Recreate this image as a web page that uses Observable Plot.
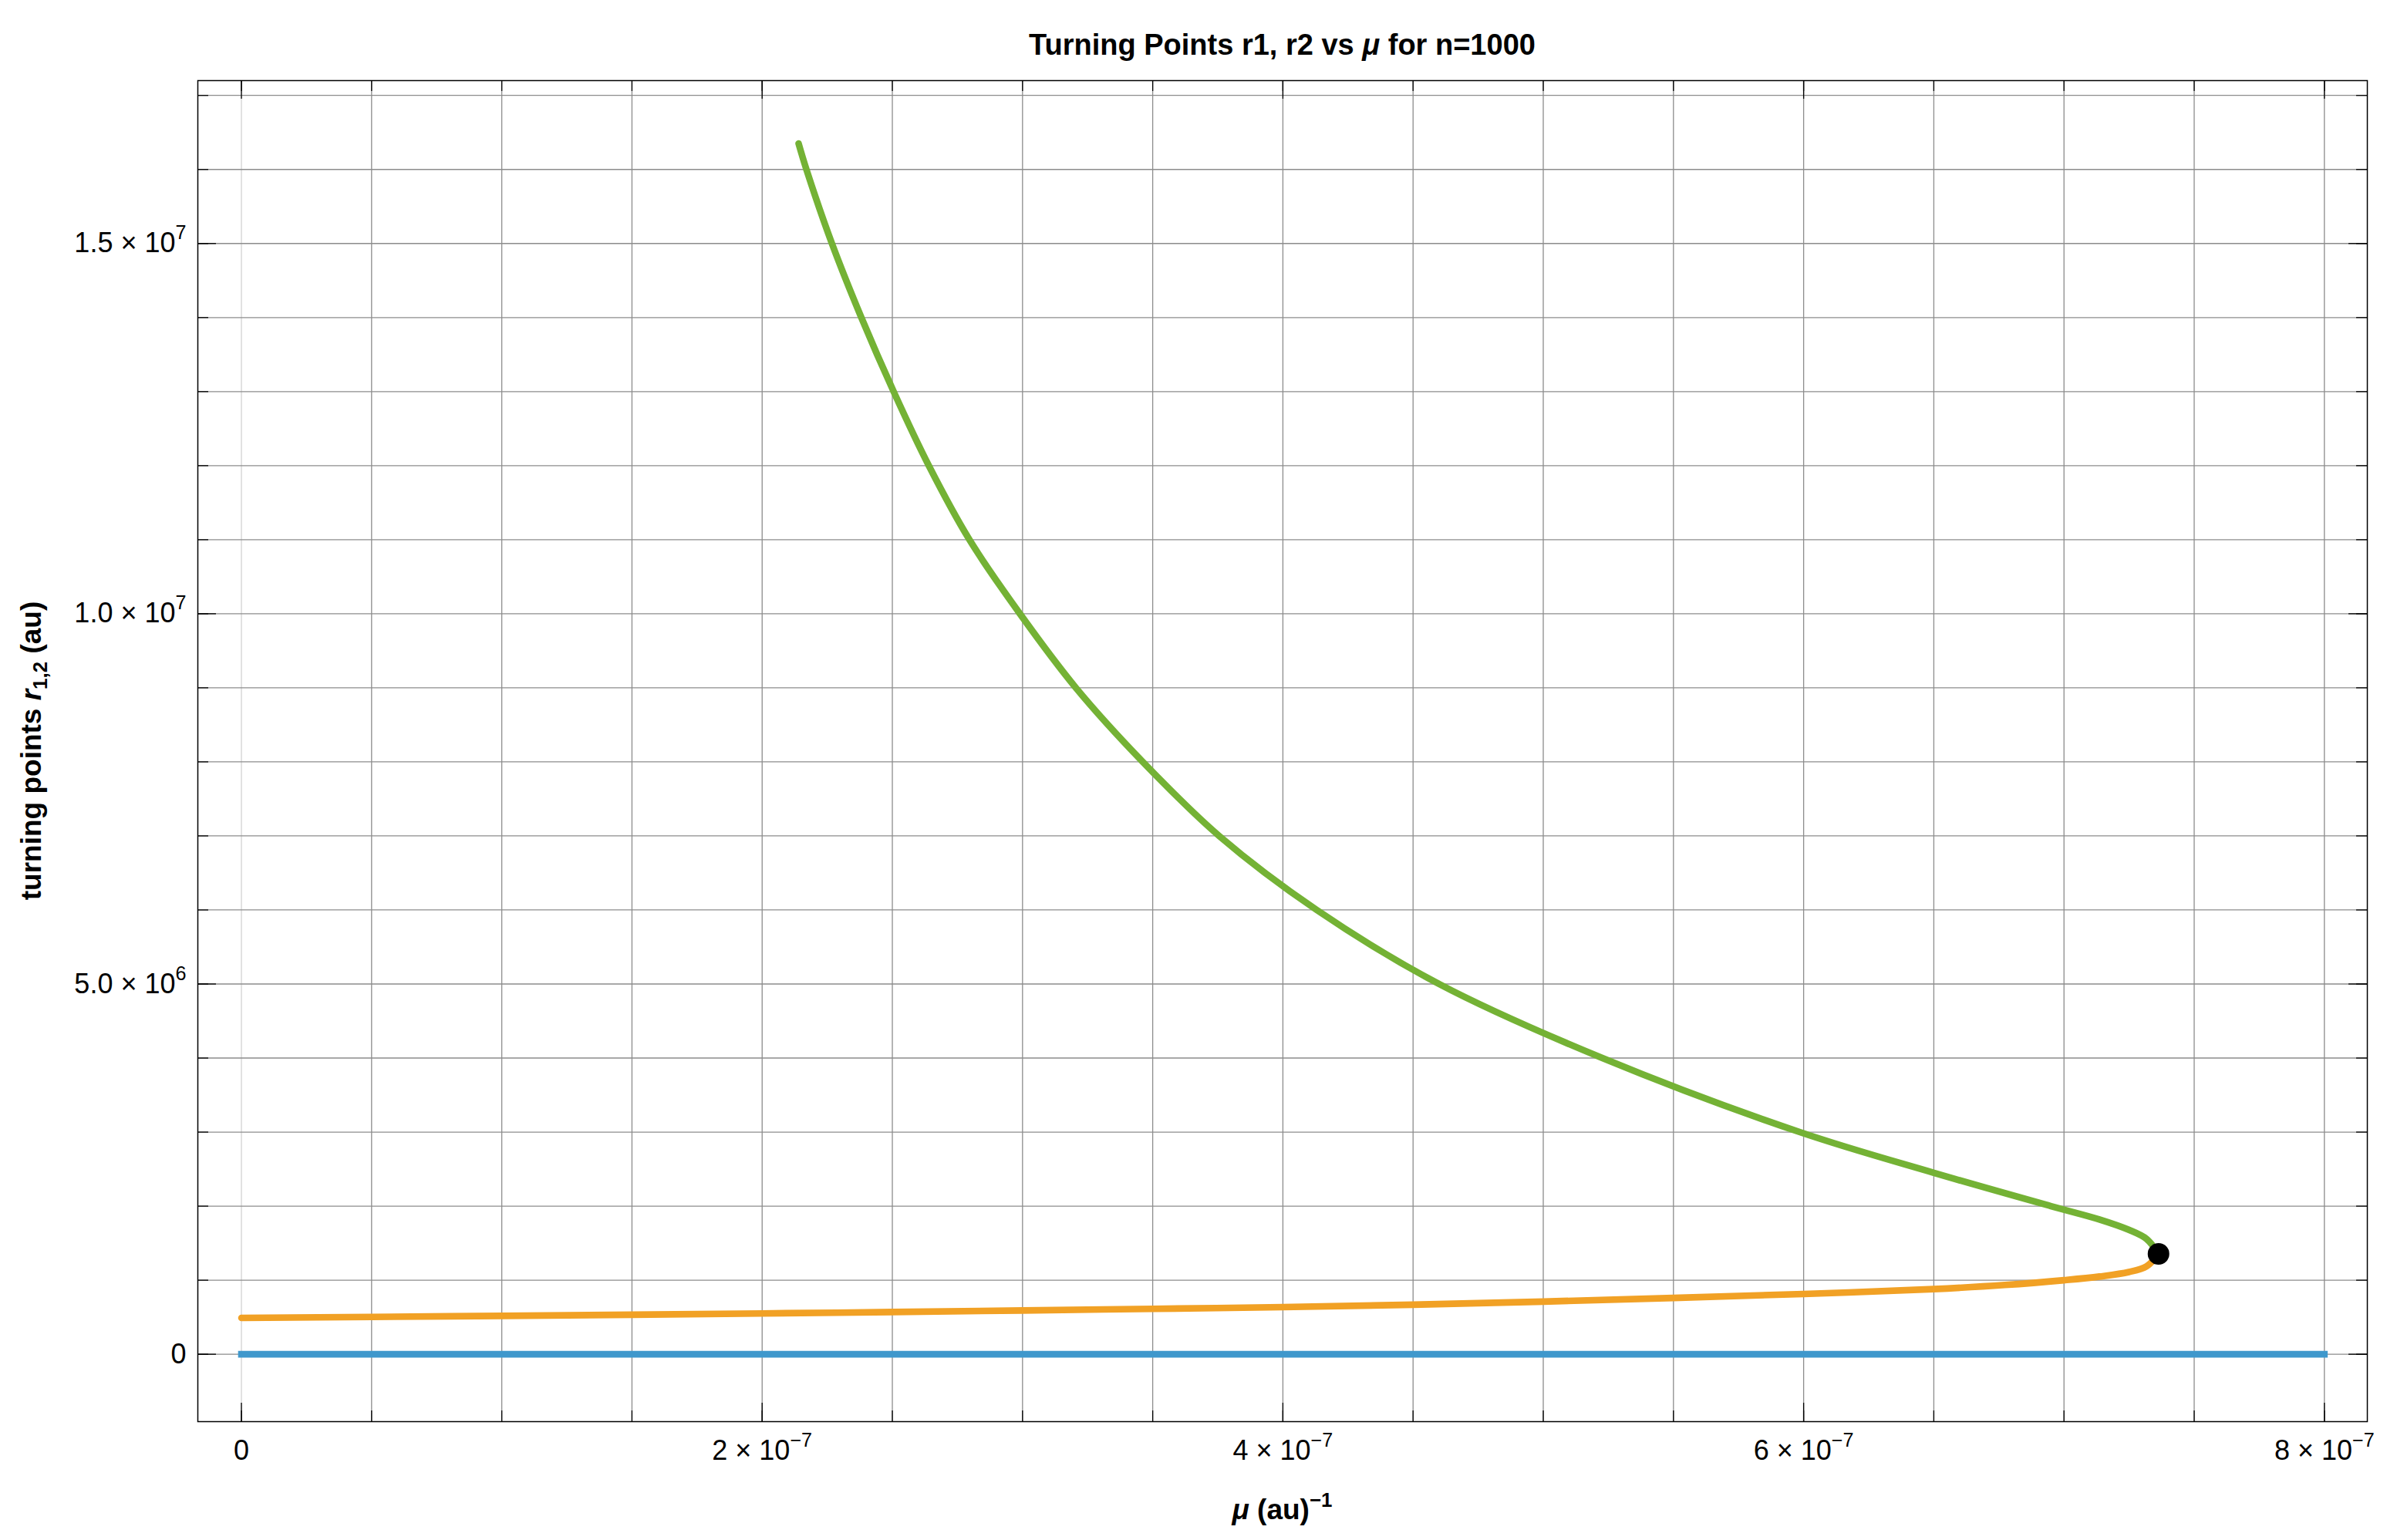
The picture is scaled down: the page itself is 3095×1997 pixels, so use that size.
<!DOCTYPE html>
<html>
<head>
<meta charset="utf-8">
<script src="https://cdn.jsdelivr.net/npm/d3@7"></script>
<script src="https://cdn.jsdelivr.net/npm/@observablehq/plot@0.6"></script>
<style>
  html, body { margin: 0; padding: 0; background: #fff; }
  #chart svg { display: block; }
</style>
</head>
<body>
<div id="chart"></div>
<script>
// outer turning point r2 (green)
const r2Mu = [2.140e-7, 2.170e-7, 2.268e-7, 2.381e-7, 2.505e-7, 2.640e-7, 2.796e-7, 2.990e-7, 3.205e-7, 3.462e-7,
  3.755e-7, 4.130e-7, 4.600e-7, 5.227e-7, 5.985e-7, 6.500e-7, 6.950e-7, 7.136e-7, 7.249e-7, 7.317e-7, 7.363e-7];
const r2Val = [16.35e6, 16.0e6, 15.0e6, 14.0e6, 13.0e6, 12.0e6, 11.0e6, 10.0e6, 9.0e6, 8.0e6,
  7.0e6, 6.0e6, 5.0e6, 4.0e6, 3.0e6, 2.45e6, 2.0e6, 1.82e6, 1.68e6, 1.557e6, 1.355e6];

// inner turning point r1 (orange)
const r1Mu = [0, 0.5e-7, 1.0e-7, 1.5e-7, 2.0e-7, 2.5e-7, 3.0e-7, 3.5e-7, 4.0e-7, 4.5e-7,
  5.0e-7, 5.5e-7, 6.0e-7, 6.5e-7, 6.773e-7, 7.0e-7, 7.136e-7, 7.249e-7, 7.317e-7, 7.363e-7];
const r1Val = [0.491e6, 0.504e6, 0.518e6, 0.534e6, 0.551e6, 0.570e6, 0.591e6, 0.613e6, 0.637e6, 0.669e6,
  0.711e6, 0.760e6, 0.814e6, 0.880e6, 0.935e6, 1.000e6, 1.049e6, 1.110e6, 1.188e6, 1.355e6];

// trivial root r = 0 (blue)
const r0Mu = [0, 8e-7];
const r0Val = [0, 0];

// point where r1 and r2 meet
const critMu = [7.363e-7];
const critVal = [1.355e6];

const xTicks = [0, 2e-7, 4e-7, 6e-7, 8e-7];
const xTickLabels = ["0", "2 × 10^−7", "4 × 10^−7", "6 × 10^−7", "8 × 10^−7"];
const xMinor = [0, 0.5e-7, 1e-7, 1.5e-7, 2e-7, 2.5e-7, 3e-7, 3.5e-7, 4e-7, 4.5e-7,
  5e-7, 5.5e-7, 6e-7, 6.5e-7, 7e-7, 7.5e-7, 8e-7];
const yTicks = [0, 5e6, 1e7, 1.5e7];
const yTickLabels = ["0", "5.0 × 10^6", "1.0 × 10^7", "1.5 × 10^7"];
const yMinor = [0, 1e6, 2e6, 3e6, 4e6, 5e6, 6e6, 7e6, 8e6, 9e6, 10e6, 11e6, 12e6, 13e6, 14e6, 15e6, 16e6, 17e6];

const W = 3095, H = 1997;
const mL = 256, mR = 26, mT = 104, mB = 154;
const innerW = W - mL - mR, innerH = H - mT - mB;
const font = "'Liberation Sans', Arial, Helvetica, sans-serif";

const rows = (xs, ys) => xs.map((x, i) => ({mu: x, r: ys[i]}));
const gridGray = "#8c8c8c";

const plot = Plot.plot({
  width: W,
  height: H,
  marginLeft: mL, marginRight: mR, marginTop: mT, marginBottom: mB,
  style: {fontFamily: font, fontSize: "36px", background: "white", color: "black"},
  x: {domain: [-0.1674e-7, 8.165e-7]},
  y: {domain: [-0.91e6, 17.2e6]},
  marks: [
    // grid
    Plot.ruleX([0], {stroke: "#d2d2d2", strokeWidth: 1.3}),
    Plot.ruleX(xMinor.filter(d => d !== 0), {stroke: gridGray, strokeWidth: 1.3}),
    Plot.ruleY(yMinor, {stroke: gridGray, strokeWidth: 1.3}),
    // inward ticks on all four sides
    Plot.ruleX(xMinor, {insetTop: innerH - 14, stroke: "black", strokeWidth: 1.3}),
    Plot.ruleX(xTicks, {insetTop: innerH - 24, stroke: "black", strokeWidth: 1.3}),
    Plot.ruleX(xMinor, {insetBottom: innerH - 14, stroke: "black", strokeWidth: 1.3}),
    Plot.ruleX(xTicks, {insetBottom: innerH - 24, stroke: "black", strokeWidth: 1.3}),
    Plot.ruleY(yMinor, {insetRight: innerW - 14, stroke: "black", strokeWidth: 1.3}),
    Plot.ruleY(yTicks, {insetRight: innerW - 24, stroke: "black", strokeWidth: 1.3}),
    Plot.ruleY(yMinor, {insetLeft: innerW - 14, stroke: "black", strokeWidth: 1.3}),
    Plot.ruleY(yTicks, {insetLeft: innerW - 24, stroke: "black", strokeWidth: 1.3}),
    Plot.frame({stroke: "black", strokeWidth: 1.5}),
    Plot.axisX(xTicks, {tickSize: 0, tickPadding: 24, fontSize: 36,
      tickFormat: d => xTickLabels[xTicks.indexOf(d)], label: null}),
    Plot.axisY(yTicks, {tickSize: 0, tickPadding: 15, fontSize: 36,
      tickFormat: d => yTickLabels[yTicks.indexOf(d)], label: null}),
    // curves
    Plot.line(rows(r0Mu, r0Val), {x: "mu", y: "r", stroke: "#3f98cc", strokeWidth: 8.6, strokeLinecap: "square"}),
    Plot.line(rows(r1Mu, r1Val), {x: "mu", y: "r", stroke: "#f1a125", strokeWidth: 8.6, curve: "catmull-rom"}),
    Plot.line(rows(r2Mu, r2Val), {x: "mu", y: "r", stroke: "#74b235", strokeWidth: 8.6, curve: "catmull-rom"}),
    Plot.dot(rows(critMu, critVal), {x: "mu", y: "r", r: 14, fill: "black"})
  ]
});

document.getElementById("chart").append(plot);

const svg = d3.select(plot);

// tick labels: mantissa × 10 with a raised exponent
svg.selectAll('g[aria-label="x-axis tick label"] text, g[aria-label="y-axis tick label"] text').each(function () {
  const parts = this.textContent.split("^");
  if (parts.length < 2) return;
  const t = d3.select(this);
  t.text(null);
  t.append("tspan").text(parts[0]);
  t.append("tspan").attr("font-size", "70%").attr("dy", -17).text(parts[1]);
});

const labels = svg.append("g")
  .attr("font-family", font)
  .attr("font-weight", "bold")
  .attr("fill", "black");

const title = labels.append("text")
  .attr("x", mL + innerW / 2)
  .attr("y", mT - 33)
  .attr("text-anchor", "middle")
  .attr("font-size", 38);
title.append("tspan").text("Turning Points r1, r2 vs ");
title.append("tspan").attr("font-style", "italic").text("μ");
title.append("tspan").text(" for n=1000");

const xLabel = labels.append("text")
  .attr("x", mL + innerW / 2)
  .attr("y", H - 27)
  .attr("text-anchor", "middle")
  .attr("font-size", 37);
xLabel.append("tspan").attr("font-style", "italic").text("μ");
xLabel.append("tspan").text(" (au)");
xLabel.append("tspan").attr("font-size", "70%").attr("dy", -16).text("−1");

const yLabel = labels.append("text")
  .attr("transform", `translate(53,${mT + innerH / 2}) rotate(-90)`)
  .attr("text-anchor", "middle")
  .attr("font-size", 37);
yLabel.append("tspan").text("turning points ");
yLabel.append("tspan").attr("font-style", "italic").text("r");
yLabel.append("tspan").attr("font-size", "70%").attr("dy", 8).text("1,2");
yLabel.append("tspan").attr("dy", -8).text(" (au)");
</script>
</body>
</html>
